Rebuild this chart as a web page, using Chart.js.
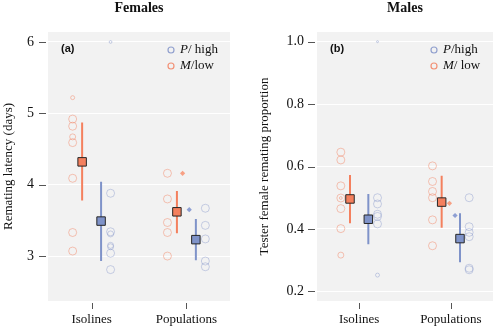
<!DOCTYPE html>
<html>
<head>
<meta charset="utf-8">
<script src="https://cdn.jsdelivr.net/npm/chart.js@4.4.0/dist/chart.umd.min.js"></script>
<style>
  body { margin: 0; background: #fff; }
  .wrap { display: flex; width: 500px; height: 328px; }
  canvas { display: block; }
</style>
</head>
<body>
<div class="wrap">
  <canvas id="females" width="250" height="328"></canvas>
  <canvas id="males" width="250" height="328"></canvas>
</div>
<script>
const categories = ['Isolines', 'Populations'];

// Females - remating latency (days)
const femIsoM = [5.22, 4.92, 4.82, 4.67, 4.59, 4.09, 3.33, 3.07];
const femIsoMWeight = [0.5, 1, 1, 0.75, 1, 1, 1, 1];
const femIsoP = [6.0, 3.88, 3.34, 3.31, 3.15, 3.13, 3.04, 2.81];
const femIsoPWeight = [0.35, 1, 1, 0.75, 0.75, 0.75, 1, 1];
const femPopM = [4.16, 3.80, 3.47, 3.33, 3.00];
const femPopMWeight = [1, 1, 1, 1, 1];
const femPopP = [3.67, 3.43, 3.24, 2.93, 2.85];
const femPopPWeight = [1, 1, 1, 1, 1];
const femMeanM = [4.32, 3.62];
const femLowM = [3.78, 3.32];
const femHighM = [4.87, 3.91];
const femMeanP = [3.49, 3.23];
const femLowP = [2.93, 2.94];
const femHighP = [4.04, 3.52];
const femDiamondM = 4.16;
const femDiamondP = 3.65;
const femTicks = [3, 4, 5, 6];

// Males - tester female remating proportion
const maleIsoM = [0.646, 0.621, 0.538, 0.499, 0.499, 0.465, 0.401, 0.316];
const maleIsoMWeight = [1, 1, 1, 1, 0.35, 1, 1, 0.75];
const maleIsoP = [1.0, 0.50, 0.48, 0.447, 0.44, 0.416, 0.252];
const maleIsoPWeight = [0.25, 1, 1, 1, 1, 1, 0.5];
const malePopM = [0.602, 0.552, 0.520, 0.50, 0.429, 0.346];
const malePopMWeight = [1, 1, 1, 1, 1, 1];
const malePopP = [0.50, 0.407, 0.389, 0.375, 0.274, 0.269];
const malePopPWeight = [1, 1, 1, 1, 1, 1];
const maleMeanM = [0.496, 0.486];
const maleLowM = [0.418, 0.404];
const maleHighM = [0.573, 0.570];
const maleMeanP = [0.431, 0.369];
const maleLowP = [0.351, 0.293];
const maleHighP = [0.512, 0.450];
const maleDiamondM = 0.482;
const maleDiamondP = 0.443;
const maleTicks = [0.2, 0.4, 0.6, 0.8, 1.0];

const ORANGE = '#f4805e';
const BLUE = '#7f93c9';
const ORANGE_FAINT = 'rgba(242,128,96,0.45)';
const BLUE_FAINT = 'rgba(128,146,200,0.4)';
const SERIF = "'Liberation Serif', 'Times New Roman', serif";

const plotBg = {
  id: 'plotBg',
  beforeDraw(chart) {
    const { ctx, chartArea: a } = chart;
    ctx.save();
    ctx.fillStyle = '#f2f2f2';
    ctx.fillRect(a.left, a.top, a.right - a.left, a.bottom - a.top);
    ctx.restore();
  }
};

const tickMarks = {
  id: 'tickMarks',
  afterDraw(chart) {
    const { ctx, chartArea: a, scales: { x, y } } = chart;
    ctx.save();
    ctx.strokeStyle = '#555';
    ctx.lineWidth = 1;
    y.ticks.forEach(t => {
      const py = Math.round(y.getPixelForValue(t.value)) + 0.5;
      ctx.beginPath(); ctx.moveTo(a.left - 9, py); ctx.lineTo(a.left - 2, py); ctx.stroke();
    });
    x.ticks.forEach(t => {
      const px = Math.round(x.getPixelForValue(t.value)) + 0.5;
      ctx.beginPath(); ctx.moveTo(px, a.bottom + 2); ctx.lineTo(px, a.bottom + 8); ctx.stroke();
    });
    ctx.restore();
  }
};

const keyAndLabel = {
  id: 'keyAndLabel',
  afterDraw(chart, args, opts) {
    const { ctx, chartArea: a } = chart;
    ctx.save();
    // panel title, centred over the plot area
    ctx.font = 'bold 14px ' + SERIF;
    ctx.fillStyle = '#111';
    ctx.textAlign = 'center';
    ctx.textBaseline = 'middle';
    ctx.fillText(opts.title, (a.left + a.right) / 2, 8);

    ctx.textAlign = 'left';
    ctx.font = "bold 11px 'Liberation Sans', Arial, sans-serif";
    ctx.fillText(opts.label, a.left + 13, a.top + 17);

    const cx = a.right - 59;
    const rows = [
      { y: a.top + 18, color: 'rgba(128,146,200,0.85)', italic: 'P', rest: opts.pText },
      { y: a.top + 34, color: 'rgba(242,128,96,0.85)', italic: 'M', rest: opts.mText }
    ];
    rows.forEach(r => {
      ctx.beginPath();
      ctx.strokeStyle = r.color;
      ctx.lineWidth = 1.2;
      ctx.arc(cx, r.y, 3, 0, Math.PI * 2);
      ctx.stroke();
      ctx.fillStyle = '#111';
      ctx.font = 'italic 13px ' + SERIF;
      ctx.fillText(r.italic, cx + 9, r.y);
      const w = ctx.measureText(r.italic).width;
      ctx.font = '13px ' + SERIF;
      ctx.fillText(r.rest, cx + 9 + w, r.y);
    });
    ctx.restore();
  }
};

function scatterPts(vals, cat, off) {
  return vals.map(v => ({ x: cat + off, y: v }));
}

function errorSegments(lo, hi, off) {
  const d = [];
  lo.forEach((l, i) => {
    d.push({ x: i + 1 + off, y: l }, { x: i + 1 + off, y: hi[i] }, { x: i + 1 + off, y: null });
  });
  return d;
}

function makePanel(id, cfg) {
  const off = { scM: -0.2, mM: -0.1, mP: 0.1, scP: 0.2 };
  const R = 4;
  const datasets = [
    { data: cfg.meanM.map((v, i) => ({ x: i + 1 + off.mM, y: v })), pointStyle: 'rect', pointRadius: 6,
      backgroundColor: ORANGE, borderColor: '#262626', borderWidth: 1 },
    { data: cfg.meanP.map((v, i) => ({ x: i + 1 + off.mP, y: v })), pointStyle: 'rect', pointRadius: 6,
      backgroundColor: BLUE, borderColor: '#262626', borderWidth: 1 },
    { data: [{ x: 2 + cfg.dOffM, y: cfg.diamondM }], pointStyle: 'rectRot', pointRadius: 2.6,
      backgroundColor: '#f7a084', borderColor: '#f7a084', borderWidth: 0 },
    { data: [{ x: 2 + cfg.dOffP, y: cfg.diamondP }], pointStyle: 'rectRot', pointRadius: 2.6,
      backgroundColor: '#8e9fd3', borderColor: '#8e9fd3', borderWidth: 0 },
    { data: errorSegments(cfg.lowM, cfg.highM, off.mM), showLine: true, spanGaps: false, pointRadius: 0,
      borderColor: ORANGE, borderWidth: 2 },
    { data: errorSegments(cfg.lowP, cfg.highP, off.mP), showLine: true, spanGaps: false, pointRadius: 0,
      borderColor: BLUE, borderWidth: 2 }
  ];
  cfg.groups.forEach(g => {
    datasets.push({
      data: scatterPts(g.vals, g.cat, g.isM ? off.scM : off.scP),
      pointRadius: g.weight.map(w => w * R),
      pointStyle: 'circle',
      backgroundColor: 'rgba(0,0,0,0)',
      borderColor: g.isM ? ORANGE_FAINT : BLUE_FAINT,
      borderWidth: 1
    });
  });

  return new Chart(document.getElementById(id), {
    type: 'scatter',
    data: { datasets },
    plugins: [plotBg, tickMarks, keyAndLabel],
    options: {
      responsive: false,
      animation: false,
      devicePixelRatio: 1,
      layout: { padding: { left: 0, right: cfg.padRight, top: 32, bottom: 0 } },
      plugins: {
        legend: { display: false },
        tooltip: { enabled: false },
        title: { display: false },
        keyAndLabel: { title: cfg.title, label: cfg.label, pText: cfg.pText, mText: cfg.mText }
      },
      scales: {
        x: {
          type: 'linear', min: 0.54, max: 2.46,
          afterBuildTicks: s => { s.ticks = categories.map((c, i) => ({ value: i + 1 })); },
          afterFit: s => { s.height = 27; },
          ticks: {
            callback: v => categories[v - 1], color: '#111', padding: 11, maxRotation: 0,
            font: { family: SERIF, size: 13 }
          },
          grid: { display: false, drawTicks: false },
          border: { display: false }
        },
        y: {
          min: cfg.yMin, max: cfg.yMax,
          afterBuildTicks: s => { s.ticks = cfg.ticks.map(v => ({ value: v })); },
          afterFit: s => { s.width = cfg.axisW; },
          ticks: {
            callback: cfg.fmt, color: '#111', padding: cfg.tickPad,
            font: { family: SERIF, size: 14 }
          },
          grid: { color: '#ffffff', lineWidth: 1, drawTicks: false },
          border: { display: false },
          title: {
            display: true, text: cfg.yTitle, color: '#111',
            font: { family: SERIF, size: 13 },
            padding: { top: cfg.titlePad, bottom: 0 }
          }
        }
      }
    }
  });
}

makePanel('females', {
  title: 'Females', label: '(a)', pText: '/ high', mText: '/low',
  yTitle: 'Remating latency (days)', yMin: 2.37, yMax: 6.14, ticks: femTicks,
  fmt: v => String(v), axisW: 48, padRight: 20, tickPad: 14, titlePad: 1,
  meanM: femMeanM, lowM: femLowM, highM: femHighM,
  meanP: femMeanP, lowP: femLowP, highP: femHighP,
  diamondM: femDiamondM, diamondP: femDiamondP, dOffM: -0.04, dOffP: 0.03,
  groups: [
    { vals: femIsoM, weight: femIsoMWeight, cat: 1, isM: true },
    { vals: femIsoP, weight: femIsoPWeight, cat: 1, isM: false },
    { vals: femPopM, weight: femPopMWeight, cat: 2, isM: true },
    { vals: femPopP, weight: femPopPWeight, cat: 2, isM: false }
  ]
});

makePanel('males', {
  title: 'Males', label: '(b)', pText: '/high', mText: '/ low',
  yTitle: 'Tester female remating proportion', yMin: 0.169, yMax: 1.031, ticks: maleTicks,
  fmt: v => v.toFixed(1), axisW: 67, padRight: 1, tickPad: 13, titlePad: 7,
  meanM: maleMeanM, lowM: maleLowM, highM: maleHighM,
  meanP: maleMeanP, lowP: maleLowP, highP: maleHighP,
  diamondM: maleDiamondM, diamondP: maleDiamondP, dOffM: -0.015, dOffP: 0.046,
  groups: [
    { vals: maleIsoM, weight: maleIsoMWeight, cat: 1, isM: true },
    { vals: maleIsoP, weight: maleIsoPWeight, cat: 1, isM: false },
    { vals: malePopM, weight: malePopMWeight, cat: 2, isM: true },
    { vals: malePopP, weight: malePopPWeight, cat: 2, isM: false }
  ]
});
</script>
</body>
</html>
